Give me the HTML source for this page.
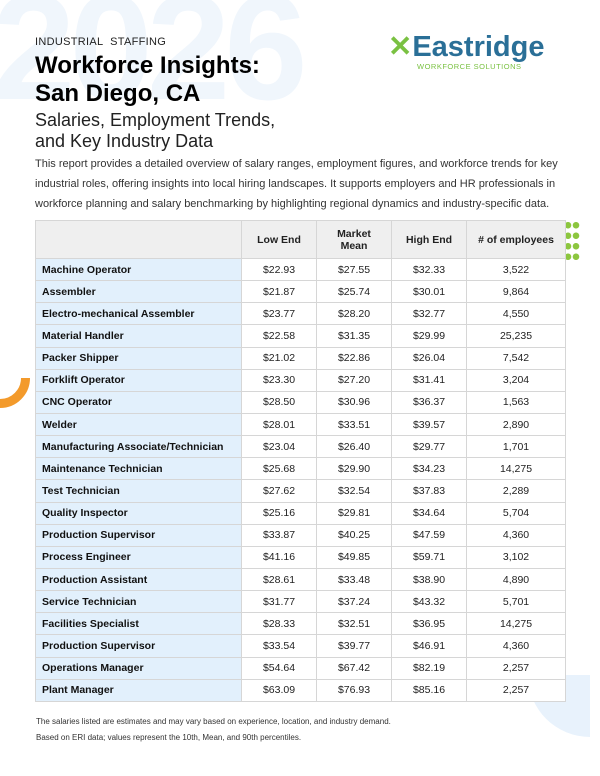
<!DOCTYPE html>
<html><head><meta charset="utf-8"><style>
*{margin:0;padding:0;box-sizing:border-box}
body{width:600px;height:776px;background:#fff;position:relative;overflow:hidden;font-family:"Liberation Sans",sans-serif;color:#111}
.abs{position:absolute}
table{position:absolute;left:35px;top:220px;border-collapse:collapse;font-size:10.5px;z-index:2}
td,th{border:1px solid #d6d6d6;height:22.15px;text-align:center;color:#222;background:#fff}
th{background:#efefef;height:38px;font-weight:bold;font-size:10.5px;line-height:12px}
td.n{background:#e2f0fc;text-align:left;padding-left:6px;font-weight:bold;color:#111}
</style></head><body>
<div class="abs" style="left:-8px;top:-28px;font-size:150px;font-weight:bold;color:#f0f6fc;letter-spacing:-6px;line-height:1">2026</div>
<div class="abs" style="left:0;top:378px;width:30px;height:38px;overflow:hidden"><div style="position:absolute;left:-30px;top:-30px;width:60px;height:60px;border-radius:50%;border:9px solid #f39a2b"></div></div>
<div class="abs" style="left:528px;top:675px;width:62px;height:70px;overflow:hidden"><div style="position:absolute;left:0;top:-62px;width:124px;height:124px;border-radius:50%;background:#e8f2fc"></div></div>
<div class="abs" style="left:35px;top:36px;font-size:11px;letter-spacing:0.3px;color:#222">INDUSTRIAL&nbsp; STAFFING</div>
<div class="abs" style="left:35px;top:52px;font-size:24px;font-weight:bold;line-height:28px;color:#000">Workforce Insights:<br>San Diego, CA</div>
<div class="abs" style="left:35px;top:110px;font-size:18px;line-height:21px;color:#222">Salaries, Employment Trends,<br>and Key Industry Data</div>
<div class="abs" style="left:35px;top:154px;font-size:11px;line-height:20px;color:#333;width:540px">This report provides a detailed overview of salary ranges, employment figures, and workforce trends for key industrial roles, offering insights into local hiring landscapes. It supports employers and HR professionals in workforce planning and salary benchmarking by highlighting regional dynamics and industry-specific data.</div>
<div class="abs" style="left:388px;top:31px;font-size:29px;font-weight:bold;color:#2a6f97;line-height:32px"><span style="color:#7ac142">✕</span>Eastridge</div>
<div class="abs" style="left:417px;top:62px;font-size:7.5px;color:#7ac142;letter-spacing:0.5px">WORKFORCE SOLUTIONS</div>
<div class="abs" style="left:564px;top:220px;width:16px;height:40px;background:radial-gradient(circle,#8cc63f 3px,transparent 3.5px) 0 0/8px 10.5px"></div>
<table>
<tr><th style="width:206px;background:#efefef"></th><th style="width:75px">Low End</th><th style="width:75px">Market<br>Mean</th><th style="width:75px">High End</th><th style="width:99px"># of employees</th></tr>
<tr><td class="n">Machine Operator</td><td>$22.93</td><td>$27.55</td><td>$32.33</td><td>3,522</td></tr>
<tr><td class="n">Assembler</td><td>$21.87</td><td>$25.74</td><td>$30.01</td><td>9,864</td></tr>
<tr><td class="n">Electro-mechanical Assembler</td><td>$23.77</td><td>$28.20</td><td>$32.77</td><td>4,550</td></tr>
<tr><td class="n">Material Handler</td><td>$22.58</td><td>$31.35</td><td>$29.99</td><td>25,235</td></tr>
<tr><td class="n">Packer Shipper</td><td>$21.02</td><td>$22.86</td><td>$26.04</td><td>7,542</td></tr>
<tr><td class="n">Forklift Operator</td><td>$23.30</td><td>$27.20</td><td>$31.41</td><td>3,204</td></tr>
<tr><td class="n">CNC Operator</td><td>$28.50</td><td>$30.96</td><td>$36.37</td><td>1,563</td></tr>
<tr><td class="n">Welder</td><td>$28.01</td><td>$33.51</td><td>$39.57</td><td>2,890</td></tr>
<tr><td class="n">Manufacturing Associate/Technician</td><td>$23.04</td><td>$26.40</td><td>$29.77</td><td>1,701</td></tr>
<tr><td class="n">Maintenance Technician</td><td>$25.68</td><td>$29.90</td><td>$34.23</td><td>14,275</td></tr>
<tr><td class="n">Test Technician</td><td>$27.62</td><td>$32.54</td><td>$37.83</td><td>2,289</td></tr>
<tr><td class="n">Quality Inspector</td><td>$25.16</td><td>$29.81</td><td>$34.64</td><td>5,704</td></tr>
<tr><td class="n">Production Supervisor</td><td>$33.87</td><td>$40.25</td><td>$47.59</td><td>4,360</td></tr>
<tr><td class="n">Process Engineer</td><td>$41.16</td><td>$49.85</td><td>$59.71</td><td>3,102</td></tr>
<tr><td class="n">Production Assistant</td><td>$28.61</td><td>$33.48</td><td>$38.90</td><td>4,890</td></tr>
<tr><td class="n">Service Technician</td><td>$31.77</td><td>$37.24</td><td>$43.32</td><td>5,701</td></tr>
<tr><td class="n">Facilities Specialist</td><td>$28.33</td><td>$32.51</td><td>$36.95</td><td>14,275</td></tr>
<tr><td class="n">Production Supervisor</td><td>$33.54</td><td>$39.77</td><td>$46.91</td><td>4,360</td></tr>
<tr><td class="n">Operations Manager</td><td>$54.64</td><td>$67.42</td><td>$82.19</td><td>2,257</td></tr>
<tr><td class="n">Plant Manager</td><td>$63.09</td><td>$76.93</td><td>$85.16</td><td>2,257</td></tr>
</table>
<div class="abs" style="left:36px;top:714px;font-size:8px;line-height:16px;color:#333">The salaries listed are estimates and may vary based on experience, location, and industry demand.<br>Based on ERI data; values represent the 10th, Mean, and 90th percentiles.</div>
</body></html>
